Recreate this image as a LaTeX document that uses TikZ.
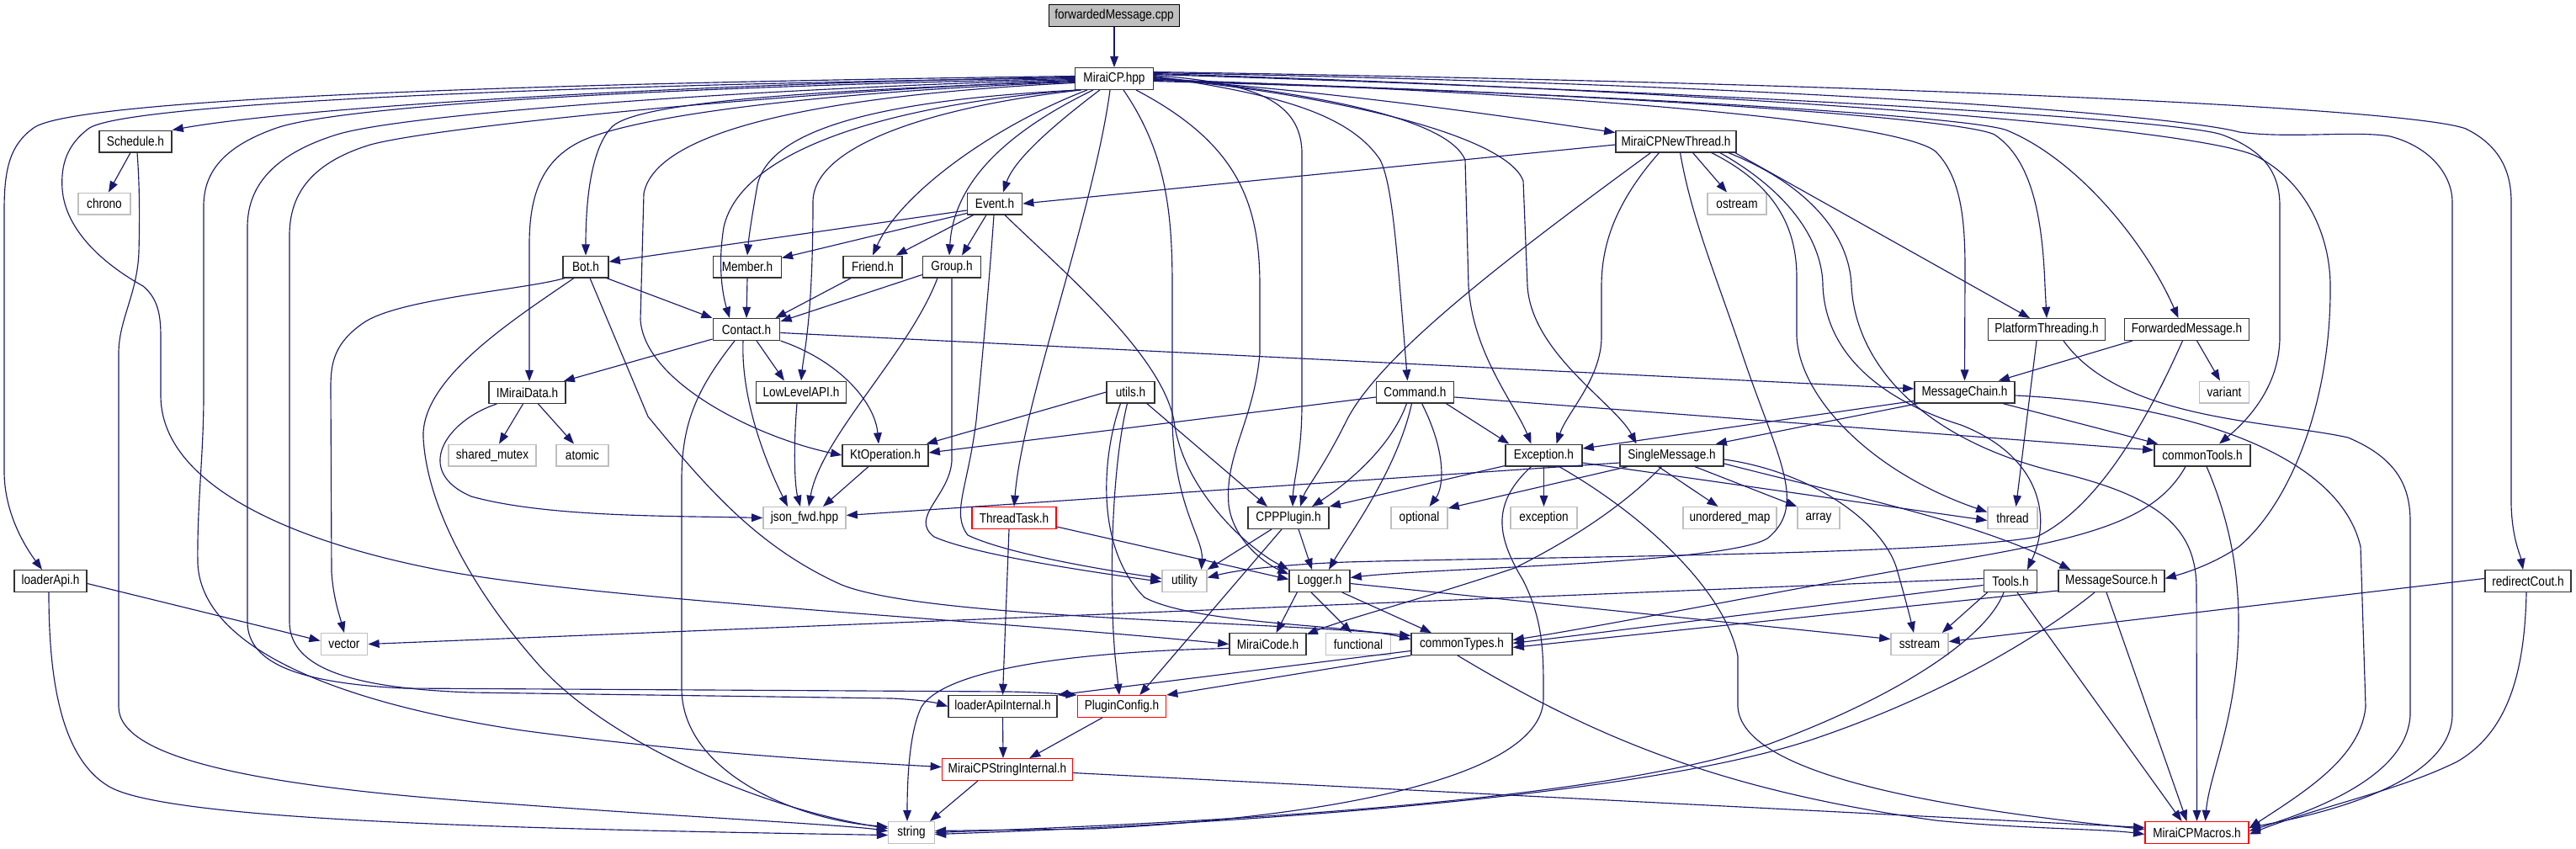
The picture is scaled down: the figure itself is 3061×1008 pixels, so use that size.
\documentclass[tikz,border=0pt]{standalone}
\usepackage{fontspec}
\setmainfont{Liberation Sans}[FakeStretch=0.86]
\usetikzlibrary{arrows.meta,calc}
\definecolor{mb}{RGB}{25,25,112}
\begin{document}
\begin{tikzpicture}[x=0.02cm,y=-0.02cm,
  nd/.style={draw=black!80, line width=0.8pt, fill=white, minimum height=0.512cm, inner xsep=1pt, inner ysep=0pt, font=\fontsize{9}{10}\selectfont},
  sysn/.style={nd, draw=gray!50},
  trn/.style={nd, draw=red},
  rootn/.style={nd, fill=gray!50, draw=black},
  lk/.style={draw=mb, line width=0.65pt, -{Triangle[length=7.5pt,width=5.5pt]}}]
\useasboundingbox (0,0) rectangle (3061,1008);
% nodes
\node[rootn, minimum width=3.10cm] (cpp) at (1324,18.5) {forwardedMessage.cpp};
\node[nd, minimum width=1.86cm] (mcp) at (1324,93.5) {MiraiCP.hpp};
\node[nd, minimum width=1.72cm] (sched) at (161,168) {Schedule.h};
\node[nd, minimum width=2.86cm] (nthr) at (1991.5,168) {MiraiCPNewThread.h};
\node[sysn, minimum width=1.24cm] (chrono) at (124,242) {chrono};
\node[nd, minimum width=1.30cm] (event) at (1182,242) {Event.h};
\node[sysn, minimum width=1.40cm] (ostream) at (2064,242) {ostream};
\node[nd, minimum width=1.08cm] (bot) at (696,317) {Bot.h};
\node[nd, minimum width=1.61cm] (member) at (888,317) {Member.h};
\node[nd, minimum width=1.40cm] (friend) at (1037,317) {Friend.h};
\node[nd, minimum width=1.38cm] (group) at (1131,317) {Group.h};
\node[nd, minimum width=1.59cm] (contact) at (887,391.5) {Contact.h};
\node[nd, minimum width=2.78cm] (platth) at (2432,391.5) {PlatformThreading.h};
\node[nd, minimum width=2.96cm] (fwdmsg) at (2598.5,391.5) {ForwardedMessage.h};
\node[nd, minimum width=1.82cm] (imd) at (626.5,466.5) {IMiraiData.h};
\node[nd, minimum width=2.14cm] (llapi) at (952,466) {LowLevelAPI.h};
\node[nd, minimum width=1.14cm] (utils) at (1343.5,466) {utils.h};
\node[nd, minimum width=1.84cm] (command) at (1681.5,466) {Command.h};
\node[nd, minimum width=2.38cm] (mchain) at (2334.5,466) {MessageChain.h};
\node[sysn, minimum width=1.18cm] (variant) at (2643,466) {variant};
\node[sysn, minimum width=2.08cm] (shmutex) at (585,541) {shared\_mutex};
\node[sysn, minimum width=1.24cm] (atomic) at (692,541) {atomic};
\node[nd, minimum width=2.04cm] (ktop) at (1052,541) {KtOperation.h};
\node[nd, minimum width=1.82cm] (exc) at (1834.5,541) {Exception.h};
\node[nd, minimum width=2.46cm] (single) at (1986.5,541) {SingleMessage.h};
\node[nd, minimum width=2.28cm] (ctools) at (2617,541) {commonTools.h};
\node[sysn, minimum width=1.96cm] (json) at (956,615.5) {json\_fwd.hpp};
\node[trn, minimum width=2.00cm] (ttask) at (1205,615.5) {ThreadTask.h};
\node[nd, minimum width=1.92cm] (cppp) at (1531,615.5) {CPPPlugin.h};
\node[sysn, minimum width=1.34cm] (optional) at (1686.5,615.5) {optional};
\node[sysn, minimum width=1.58cm] (exception) at (1834.5,615.5) {exception};
\node[sysn, minimum width=2.22cm] (umap) at (2055.5,615.5) {unordered\_map};
\node[sysn, minimum width=1.00cm] (array) at (2161,615.5) {array};
\node[sysn, minimum width=1.18cm] (thread) at (2391.5,615.5) {thread};
\node[nd, minimum width=1.72cm] (loaderapi) at (60,690.5) {loaderApi.h};
\node[sysn, minimum width=1.06cm] (utility) at (1407.5,690.5) {utility};
\node[nd, minimum width=1.44cm] (logger) at (1568,690.5) {Logger.h};
\node[nd, minimum width=1.27cm] (tools) at (2389,690.5) {Tools.h};
\node[nd, minimum width=2.52cm] (msrc) at (2509,690.5) {MessageSource.h};
\node[nd, minimum width=2.04cm] (redir) at (3004,690.5) {redirectCout.h};
\node[sysn, minimum width=1.11cm] (vector) at (409,765.5) {vector};
\node[nd, minimum width=1.82cm] (mcode) at (1506.5,765.5) {MiraiCode.h};
\node[sysn, minimum width=1.54cm] (functional) at (1614,765.5) {functional};
\node[nd, minimum width=2.40cm] (ctypes) at (1737,765.5) {commonTypes.h};
\node[sysn, minimum width=1.36cm] (sstream) at (2281,765.5) {sstream};
\node[nd, minimum width=2.58cm] (lai) at (1191.5,839.5) {loaderApiInternal.h};
\node[trn, minimum width=2.10cm] (pconf) at (1333,839.5) {PluginConfig.h};
\node[trn, minimum width=3.10cm] (msi) at (1197,914.5) {MiraiCPStringInternal.h};
\node[sysn, minimum width=1.09cm] (string) at (1083,989.5) {string};
\node[trn, minimum width=2.46cm] (macros) at (2610.5,989.5) {MiraiCPMacros.h};
% root
\draw[lk] (cpp) -- (mcp);
% MiraiCP.hpp left fan
\draw[lk] ($(mcp.west)+(0,-3)$) .. controls (700,98) and (90,115) .. (40,152) .. controls (12,172) and (5,200) .. (5,250) -- (5,560) .. controls (5,610) and (30,650) .. ($(loaderapi.north)+(-10,0)$);
\draw[lk] ($(mcp.west)+(0,-2)$) .. controls (800,100) and (350,128) .. (sched.north east);
\draw[lk] ($(mcp.west)+(0,-1)$) .. controls (600,102) and (140,125) .. (105,153) .. controls (80,172) and (72,195) .. (74,225) .. controls (78,275) and (125,315) .. (170,340) .. controls (188,355) and (191,375) .. (191,400) -- (191,470) .. controls (191,570) and (330,640) .. (520,677) .. controls (700,712) and (1150,735) .. (mcode.west);
\draw[lk] ($(mcp.west)+(0,0)$) .. controls (800,103) and (400,125) .. (326,153) .. controls (265,175) and (242,205) .. (242,245) -- (242,470) .. controls (242,540) and (234,600) .. (235,670) .. controls (240,770) and (400,835) .. (620,868) .. controls (820,895) and (1000,905) .. ($(msi.west)+(0,-3)$);
\draw[lk] ($(mcp.west)+(0,1)$) .. controls (900,105) and (480,135) .. (400,160) .. controls (320,185) and (294,225) .. (294,270) -- (294,740) .. controls (295,790) and (360,812) .. (480,818) -- (1200,822) .. controls (1240,823) and (1265,825) .. (pconf.north west);
\draw[lk] ($(mcp.west)+(0,2)$) .. controls (950,108) and (520,150) .. (440,172) .. controls (365,195) and (344,235) .. (344,280) -- (344,740) .. controls (345,795) and (420,818) .. (560,823) -- (1060,830) .. controls (1100,832) and (1115,836) .. (lai.west);
\draw[lk] ($(mcp.west)+(0,3)$) .. controls (950,108) and (760,122) .. (728,150) .. controls (702,175) and (696,240) .. (bot.north);
\draw[lk] ($(mcp.west)+(0,4)$) .. controls (1000,108) and (760,135) .. (690,168) .. controls (645,190) and (629,230) .. (629,290) -- ($(imd.north)+(2.5,0)$);
\draw[lk] ($(mcp.west)+(0,5)$) .. controls (1000,112) and (780,150) .. (765,230) -- (761,380) .. controls (766,455) and (900,520) .. (ktop.west);
\draw[lk] ($(mcp.south west)+(3,0)$) .. controls (1050,125) and (880,180) .. (860,270) .. controls (852,320) and (860,355) .. ($(contact.north)+(-20,0)$);
\draw[lk] ($(mcp.south west)+(5,0)$) .. controls (1060,118) and (915,150) .. (900,220) .. controls (893,260) and (890,280) .. (member.north);
\draw[lk] ($(mcp.south west)+(8,0)$) .. controls (1120,125) and (966,170) .. (966,240) .. controls (966,380) and (955,420) .. (llapi.north);
\draw[lk] ($(mcp.south west)+(15,0)$) .. controls (1180,150) and (1070,230) .. (friend.north);
\draw[lk] ($(mcp.south west)+(22,0)$) .. controls (1190,160) and (1133,220) .. ($(group.north)+(-3,0)$);
\draw[lk] ($(mcp.south west)+(30,0)$) .. controls (1250,150) and (1205,190) .. ($(event.north)+(10,0)$);
\draw[lk] ($(mcp.south)+(-5,0)$) .. controls (1300,250) and (1215,480) .. (ttask.north);
\draw[lk] ($(mcp.south)+(11,0)$) .. controls (1385,180) and (1393,250) .. (1393,340) -- (1393,500) .. controls (1395,600) and (1430,640) .. ($(utility.north)+(20,0)$);
\draw[lk] ($(mcp.south)+(26,0)$) .. controls (1470,170) and (1497,240) .. (1497,340) -- (1497,420) .. controls (1490,500) and (1455,540) .. (1460,600) .. controls (1465,640) and (1500,668) .. ($(logger.west)+(0,-8)$);
% MiraiCP.hpp right fan
\draw[lk] ($(mcp.east)+(0,-4)$) .. controls (1480,98) and (1545,115) .. (1547,180) -- (1547,480) .. controls (1547,540) and (1537,570) .. ($(cppp.north)+(5,0)$);
\draw[lk] ($(mcp.east)+(0,-3)$) .. controls (1500,110) and (1600,130) .. (1640,190) .. controls (1655,220) and (1660,300) .. ($(command.north)+(-9,0)$);
\draw[lk] ($(mcp.east)+(0,-2)$) .. controls (1560,110) and (1720,140) .. (1741,190) -- (1745,340) .. controls (1750,420) and (1800,480) .. ($(exc.north)+(-15,0)$);
\draw[lk] ($(mcp.east)+(0,-1)$) .. controls (1580,112) and (1790,160) .. (1810,215) -- (1815,340) .. controls (1820,420) and (1920,480) .. ($(single.north)+(-42,0)$);
\draw[lk] ($(mcp.east)+(0,0)$) .. controls (1600,110) and (1800,140) .. ($(nthr.north west)+(0,3)$);
\draw[lk] ($(mcp.east)+(0,1)$) .. controls (1800,108) and (2250,140) .. (2300,180) .. controls (2330,210) and (2335,260) .. (2335,320) -- (mchain.north);
\draw[lk] ($(mcp.east)+(0,2)$) .. controls (1900,110) and (2330,140) .. (2370,160) .. controls (2415,190) and (2427,260) .. (2430,340) -- (platth.north);
\draw[lk] ($(mcp.east)+(0,3)$) .. controls (1950,112) and (2350,140) .. (2385,155) .. controls (2470,190) and (2550,290) .. ($(fwdmsg.north)+(-10,0)$);
\draw[lk] ($(mcp.east)+(0,-5)$) .. controls (2000,108) and (2580,140) .. (2640,160) .. controls (2695,180) and (2709,210) .. (2709,245) -- (2709,400) .. controls (2709,460) and (2670,500) .. ($(ctools.north)+(20,0)$);
\draw[lk] ($(mcp.east)+(0,-6)$) .. controls (2050,108) and (2600,150) .. (2680,185) .. controls (2740,215) and (2769,280) .. (2769,340) .. controls (2770,480) and (2720,600) .. (2660,650) .. controls (2630,670) and (2600,680) .. ($(msrc.east)+(0,-3)$);
\draw[lk] ($(mcp.east)+(0,-7)$) .. controls (2200,102) and (2600,140) .. (2661,157) .. controls (2720,165) and (2800,155) .. (2840,162) .. controls (2890,175) and (2914,210) .. (2914,240) -- (2914,850) .. controls (2912,920) and (2800,960) .. ($(macros.east)+(0,-6)$);
\draw[lk] ($(mcp.east)+(0,-8)$) .. controls (2300,100) and (2870,130) .. (2930,153) .. controls (2975,175) and (2984,210) .. (2984,240) -- (2984,600) .. controls (2985,640) and (2995,660) .. ($(redir.north)+(-6,0)$);
% MiraiCPNewThread.h
\draw[lk] ($(nthr.west)+(0,4)$) -- (event.east);
\draw[lk] ($(nthr.south)+(-30,0)$) .. controls (1800,300) and (1640,420) .. (1600,500) .. controls (1570,560) and (1552,580) .. ($(cppp.north)+(14,0)$);
\draw[lk] ($(nthr.south)+(-20,0)$) .. controls (1920,240) and (1903,290) .. (1903,340) -- (1903,400) .. controls (1903,450) and (1862,490) .. ($(exc.north)+(15,0)$);
\draw[lk] ($(nthr.south)+(5,0)$) .. controls (2010,260) and (2040,330) .. (2070,420) .. controls (2110,540) and (2150,600) .. (2100,640) .. controls (2050,670) and (1700,675) .. ($(logger.east)+(0,-4)$);
\draw[lk] ($(nthr.south)+(20,0)$) -- ($(ostream.north)+(-12,0)$);
\draw[lk] ($(nthr.south east)+(-30,0)$) .. controls (2110,220) and (2135,270) .. (2135,330) -- (2135,400) .. controls (2138,470) and (2220,560) .. ($(thread.west)+(0,-7)$);
\draw[lk] ($(nthr.south east)+(-20,0)$) .. controls (2130,230) and (2166,290) .. (2166,340) .. controls (2170,430) and (2250,480) .. (2330,505) .. controls (2420,540) and (2440,610) .. ($(tools.north)+(20,0)$);
\draw[lk] ($(nthr.south east)+(-10,0)$) .. controls (2150,220) and (2198,280) .. (2200,340) .. controls (2205,430) and (2280,520) .. (2440,560) .. controls (2570,590) and (2610,630) .. (2610,700) -- (macros.north);
\draw[lk] ($(nthr.south east)+(-2,0)$) -- ($(platth.north)+(-20,0)$);
% Schedule, loaderApi
\draw[lk] ($(sched.south)+(-6,0)$) -- ($(chrono.north)+(5,0)$);
\draw[lk] ($(sched.south)+(2,0)$) .. controls (166,220) and (166,260) .. (165,300) .. controls (163,350) and (141,380) .. (141,420) -- (141,840) .. controls (141,900) and (300,935) .. (600,955) .. controls (800,970) and (1000,980) .. ($(string.west)+(0,-2)$);
\draw[lk] ($(loaderapi.east)+(0,3)$) -- ($(vector.west)+(0,-4)$);
\draw[lk] ($(loaderapi.south)+(-2,0)$) .. controls (58,800) and (70,900) .. (130,935) .. controls (200,975) and (600,985) .. ($(string.west)+(0,3)$);
% Bot
\draw[lk] ($(bot.south east)+(-3,0)$) -- (contact.north west);
\draw[lk] ($(bot.south west)+(3,0)$) .. controls (620,345) and (470,355) .. (430,385) .. controls (398,408) and (393,430) .. (393,460) -- (394,680) .. controls (396,710) and (403,730) .. (vector.north);
\draw[lk] ($(bot.south)+(-14,0)$) .. controls (610,380) and (500,450) .. (503,520) .. controls (507,600) and (560,700) .. (640,790) .. controls (720,880) and (900,960) .. ($(string.west)+(0,-5)$);
\draw[lk] ($(bot.south)+(5,0)$) -- (770,495) .. controls (840,580) and (900,650) .. (1000,695) .. controls (1100,735) and (1500,738) .. ($(ctypes.west)+(0,-10)$);
% Event
\draw[lk] ($(event.west)+(0,8)$) -- ($(bot.east)+(0,-6)$);
\draw[lk] ($(event.south west)+(0,-2)$) -- ($(member.north east)+(0,3)$);
\draw[lk] ($(event.south west)+(8,0)$) -- ($(friend.north east)+(-8,0)$);
\draw[lk] ($(event.south)+(-10,0)$) -- ($(group.north)+(12,0)$);
\draw[lk] ($(event.south)+(-1,0)$) .. controls (1178,300) and (1170,400) .. (1160,500) .. controls (1150,580) and (1130,610) .. (1150,636) .. controls (1200,660) and (1330,680) .. ($(utility.west)+(0,-3)$);
\draw[lk] ($(event.south)+(12,0)$) .. controls (1260,320) and (1380,420) .. (1395,500) .. controls (1405,580) and (1480,650) .. (logger.north west);
% Member, Friend, Group
\draw[lk] (member.south) -- (contact.north);
\draw[lk] ($(friend.south west)+(10,0)$) -- ($(contact.north east)+(-6,0)$);
\draw[lk] ($(group.south west)+(0,-4)$) -- ($(contact.north east)+(0,4)$);
\draw[lk] ($(group.south)+(-17,0)$) .. controls (1080,420) and (975,520) .. ($(json.north)+(5,0)$);
\draw[lk] (group.south) -- (1131,548) .. controls (1128,590) and (1080,615) .. (1110,638) .. controls (1160,660) and (1300,680) .. ($(utility.west)+(0,1)$);
% Contact
\draw[lk] ($(contact.south west)+(0,-2)$) -- ($(imd.north east)+(-3,0)$);
\draw[lk] ($(contact.south)+(12,0)$) -- ($(llapi.north)+(-20,0)$);
\draw[lk] (contact.south east) .. controls (1000,430) and (1040,480) .. ($(ktop.north)+(-8,0)$);
\draw[lk] ($(contact.south)+(-4,0)$) .. controls (880,480) and (915,560) .. ($(json.north)+(-20,0)$);
\draw[lk] ($(contact.south)+(-14,0)$) .. controls (830,460) and (810,500) .. (810,570) -- (810,820) .. controls (812,920) and (950,975) .. ($(string.west)+(0,-7)$);
\draw[lk] ($(contact.east)+(0,4)$) -- ($(mchain.west)+(0,-4)$);
% IMiraiData, LowLevelAPI, KtOperation
\draw[lk] ($(imd.south)+(-5,0)$) -- ($(shmutex.north)+(8,0)$);
\draw[lk] ($(imd.south)+(13,0)$) -- ($(atomic.north)+(-10,0)$);
\draw[lk] ($(imd.south west)+(10,0)$) .. controls (530,500) and (490,560) .. (560,590) .. controls (650,615) and (800,613) .. (json.west);
\draw[lk] ($(llapi.south)+(-5,0)$) .. controls (942,540) and (945,580) .. ($(json.north)+(-5,0)$);
\draw[lk] ($(ktop.south)+(-20,0)$) -- ($(json.north)+(22,0)$);
% utils
\draw[lk] (utils.west) -- ($(ktop.north east)+(-3,0)$);
\draw[lk] ($(utils.south east)+(-10,0)$) -- ($(cppp.north)+(-25,0)$);
\draw[lk] ($(utils.south)+(-4,0)$) .. controls (1320,560) and (1318,700) .. (1325,780) -- ($(pconf.north)+(-3,0)$);
\draw[lk] ($(utils.south)+(-12,0)$) .. controls (1310,540) and (1300,650) .. (1360,710) .. controls (1420,742) and (1600,742) .. ($(ctypes.west)+(0,-6)$);
% Command
\draw[lk] ($(command.west)+(0,6)$) -- ($(ktop.east)+(0,-3)$);
\draw[lk] ($(command.south east)+(-10,0)$) -- ($(exc.north west)+(5,0)$);
\draw[lk] ($(command.south)+(-10,0)$) .. controls (1650,540) and (1585,585) .. ($(cppp.north)+(28,0)$);
\draw[lk] ($(command.south)+(-4,0)$) .. controls (1660,560) and (1600,640) .. ($(logger.north)+(11,0)$);
\draw[lk] ($(command.south)+(8,0)$) .. controls (1720,540) and (1715,580) .. ($(optional.north)+(12,0)$);
\draw[lk] ($(command.east)+(0,6)$) -- ($(ctools.west)+(0,-6)$);
% ThreadTask
\draw[lk] ($(ttask.south)+(-6,0)$) -- (lai.north);
\draw[lk] ($(ttask.south east)+(0,-3)$) -- ($(logger.west)+(0,-2)$);
% CPPPlugin
\draw[lk] ($(cppp.south)+(-20,0)$) -- (utility.north east);
\draw[lk] ($(cppp.south)+(-8,0)$) -- ($(pconf.north east)+(-32,0)$);
\draw[lk] ($(cppp.south)+(12,0)$) -- ($(logger.north)+(-9,0)$);
% Exception
\draw[lk] ($(exc.south west)+(0,-1)$) -- (cppp.north east);
\draw[lk] (exc.south) -- (exception.north);
\draw[lk] ($(exc.south)+(-15,0)$) .. controls (1770,600) and (1780,640) .. (1810,690) .. controls (1835,740) and (1834,780) .. (1834,830) .. controls (1834,920) and (1600,970) .. (1300,985) -- ($(string.east)+(0,-2)$);
\draw[lk] ($(exc.south)+(18,0)$) .. controls (1950,610) and (2050,700) .. (2065,780) -- (2065,840) .. controls (2070,920) and (2300,960) .. ($(macros.west)+(0,-4)$);
\draw[lk] ($(exc.east)+(0,9)$) -- ($(thread.west)+(0,3)$);
% SingleMessage
\draw[lk] ($(single.west)+(0,9)$) -- ($(json.east)+(0,-3)$);
\draw[lk] ($(single.south west)+(10,0)$) -- ($(optional.north east)+(0,2)$);
\draw[lk] ($(single.south)+(-16,0)$) -- ($(umap.north)+(-14,0)$);
\draw[lk] ($(single.south east)+(-35,0)$) -- (array.north west);
\draw[lk] ($(single.south)+(-12,0)$) .. controls (1930,600) and (1870,640) .. (1800,675) .. controls (1680,715) and (1600,735) .. ($(mcode.north east)+(0,2)$);
\draw[lk] ($(single.east)+(0,5)$) .. controls (2150,560) and (2240,620) .. (2255,680) .. controls (2265,715) and (2270,735) .. ($(sstream.north)+(-7,0)$);
\draw[lk] ($(single.east)+(0,10)$) .. controls (2200,590) and (2350,620) .. ($(msrc.north west)+(15,0)$);
% MessageChain, ForwardedMessage, PlatformThreading
\draw[lk] ($(mchain.south west)+(0,-3)$) -- ($(exc.east)+(0,-8)$);
\draw[lk] ($(mchain.south west)+(5,0)$) -- ($(single.north east)+(-10,0)$);
\draw[lk] ($(mchain.south east)+(-15,0)$) -- ($(ctools.north west)+(5,0)$);
\draw[lk] ($(mchain.east)+(0,4)$) .. controls (2600,480) and (2780,540) .. (2805,650) -- (2811,840) .. controls (2805,900) and (2740,940) .. ($(macros.north east)+(0,8)$);
\draw[lk] ($(fwdmsg.south west)+(10,0)$) -- ($(mchain.north east)+(-20,0)$);
\draw[lk] ($(fwdmsg.south)+(12,0)$) -- ($(variant.north)+(-5,0)$);
\draw[lk] ($(fwdmsg.south)+(-5,0)$) .. controls (2560,480) and (2500,600) .. (2420,638) .. controls (2300,660) and (1800,662) .. (1600,668) .. controls (1500,672) and (1460,680) .. ($(utility.east)+(0,-4)$);
\draw[lk] ($(platth.south)+(-12,0)$) -- ($(thread.north)+(4,0)$);
\draw[lk] ($(platth.south)+(20,0)$) .. controls (2520,500) and (2700,500) .. (2790,520) .. controls (2850,545) and (2864,580) .. (2864,620) -- (2864,850) .. controls (2860,920) and (2760,960) .. ($(macros.east)+(0,-2)$);
% commonTools
\draw[lk] ($(ctools.south)+(5,0)$) .. controls (2650,620) and (2660,680) .. (2660,740) .. controls (2660,850) and (2625,920) .. ($(macros.north)+(10,0)$);
\draw[lk] ($(ctools.south)+(-20,0)$) .. controls (2560,620) and (2480,640) .. (2300,670) .. controls (2100,705) and (1900,745) .. ($(ctypes.east)+(0,-5)$);
% Logger
\draw[lk] ($(logger.south west)+(10,0)$) -- ($(mcode.north)+(10,0)$);
\draw[lk] ($(logger.south)+(-10,0)$) -- ($(functional.north)+(-8,0)$);
\draw[lk] ($(logger.south east)+(-10,0)$) -- ($(ctypes.north)+(-36,0)$);
\draw[lk] ($(logger.east)+(0,3)$) -- ($(sstream.west)+(0,-6)$);
% MiraiCode
\draw[lk] ($(mcode.west)+(0,5)$) .. controls (1250,775) and (1120,800) .. (1095,840) .. controls (1080,870) and (1078,930) .. ($(string.north)+(-5,0)$);
% commonTypes
\draw[lk] (ctypes.south west) -- (pconf.north east);
\draw[lk] ($(ctypes.west)+(0,8)$) -- (lai.north east);
\draw[lk] ($(ctypes.south)+(-5,0)$) .. controls (1900,880) and (2050,940) .. (2300,975) .. controls (2400,985) and (2500,985) .. ($(macros.west)+(0,2)$);
% Tools
\draw[lk] ($(tools.west)+(0,-3)$) -- (vector.east);
\draw[lk] ($(tools.south west)+(5,0)$) -- ($(sstream.north east)+(-8,0)$);
\draw[lk] ($(tools.west)+(0,5)$) -- ($(ctypes.east)+(0,-1)$);
\draw[lk] ($(tools.south)+(-8,0)$) .. controls (2360,760) and (2250,830) .. (2100,885) .. controls (1900,950) and (1500,975) .. (string.east);
\draw[lk] ($(tools.south)+(8,0)$) -- ($(macros.north)+(-18,0)$);
% MessageSource
\draw[lk] ($(msrc.south west)+(0,-2)$) -- ($(ctypes.east)+(0,4)$);
\draw[lk] ($(msrc.south)+(-20,0)$) .. controls (2420,760) and (2300,830) .. (2150,880) .. controls (1950,945) and (1500,978) .. ($(string.east)+(0,2)$);
\draw[lk] ($(msrc.south)+(-6,0)$) -- ($(macros.north)+(-12,0)$);
% redirectCout
\draw[lk] ($(redir.west)+(0,-3)$) -- ($(sstream.east)+(0,-3)$);
\draw[lk] ($(redir.south)+(-2,0)$) .. controls (3000,800) and (2980,870) .. (2920,905) .. controls (2850,940) and (2750,960) .. ($(macros.east)+(0,2)$);
% loaderApiInternal, PluginConfig, MiraiCPStringInternal
\draw[lk] (lai.south) -- ($(msi.north)+(-5,0)$);
\draw[lk] ($(pconf.south west)+(30,0)$) -- ($(msi.north east)+(-52,0)$);
\draw[lk] ($(msi.south)+(-35,0)$) -- ($(string.north east)+(-6,0)$);
\draw[lk] ($(msi.east)+(0,4)$) -- ($(macros.west)+(0,-6)$);
\end{tikzpicture}
\end{document}
